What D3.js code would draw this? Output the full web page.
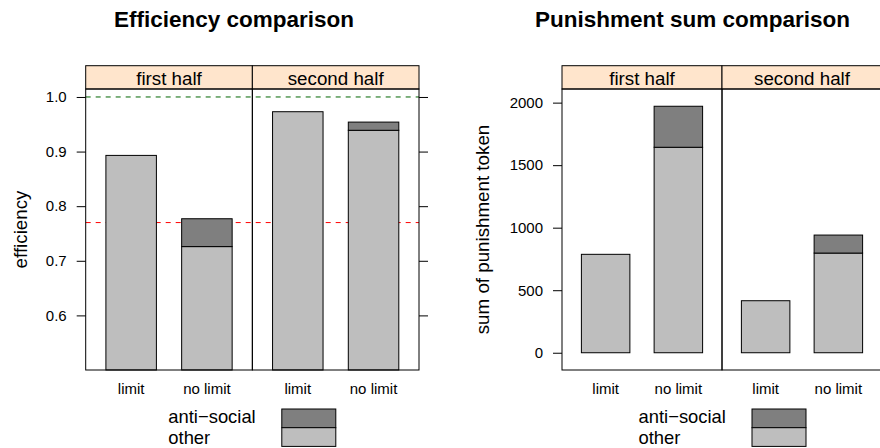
<!DOCTYPE html>
<html>
<head>
<meta charset="utf-8">
<script src="https://cdn.jsdelivr.net/npm/d3@7"></script>
<style>
  html, body { margin: 0; padding: 0; background: #fff; }
  svg { display: block; font-family: "Liberation Sans", Arial, Helvetica, sans-serif; }
</style>
</head>
<body>
<svg id="chart" width="880" height="448"></svg>
<script>
// Conditions and panels
const halves = ["first half", "second half"];
const treatments = ["limit", "no limit"];
const groups = ["other", "anti\u2212social"];

// Efficiency per half x treatment (limit, no limit, limit, no limit)
const effOther = [0.893, 0.726, 0.973, 0.939];
const effAnti  = [0.000, 0.051, 0.000, 0.015];
const effTicks = [0.6, 0.7, 0.8, 0.9, 1.0];
const effRefMax = 1.0;
const effRefBase = 0.77;

// Punishment token sums per half x treatment
const punOther = [787, 1643, 416, 797];
const punAnti  = [0, 328, 0, 144];
const punTicks = [0, 500, 1000, 1500, 2000];

const svg = d3.select("#chart");
const colOther = "#bebebe";
const colAnti = "#7f7f7f";
const stripFill = "#ffe5cc";

function drawChart(opt) {
  const g = svg.append("g");
  const top = 65.7, stripBottom = 89, bottom = 370;
  const mid = (opt.left + opt.right) / 2;

  const y = d3.scaleLinear().domain(opt.domain).range([bottom, stripBottom]);

  // title
  g.append("text")
    .attr("x", opt.titleX).attr("y", 27)
    .attr("text-anchor", "middle")
    .style("font-size", "22.5px").style("font-weight", "bold")
    .text(opt.title);

  // reference lines (under bars)
  (opt.refs || []).forEach(r => {
    g.append("line")
      .attr("x1", opt.left).attr("x2", opt.right)
      .attr("y1", y(r.v)).attr("y2", y(r.v))
      .attr("stroke", r.color).attr("stroke-width", 1)
      .attr("stroke-dasharray", "5,5");
  });

  halves.forEach((h, hi) => {
    const l = hi === 0 ? opt.left : mid;
    const r = hi === 0 ? mid : opt.right;
    const x = d3.scaleBand().domain(treatments).range([l, r])
      .paddingInner(1 / 3).paddingOuter(0.2667);

    const rows = treatments.map((t, ti) => {
      const k = hi * 2 + ti;
      return { t, other: opt.other[k], anti: opt.anti[k] };
    });
    const stack = d3.stack().keys(["other", "anti"])(rows);

    stack.forEach(layer => {
      layer.forEach(seg => {
        if (seg[1] - seg[0] <= 0) return;
        const y0 = Math.max(seg[0], opt.domain[0]);
        g.append("rect")
          .attr("x", x(seg.data.t)).attr("width", x.bandwidth())
          .attr("y", y(seg[1])).attr("height", y(y0) - y(seg[1]))
          .attr("fill", layer.key === "other" ? colOther : colAnti)
          .attr("stroke", "#000").attr("stroke-width", 1);
      });
    });

    // category labels
    treatments.forEach(t => {
      g.append("text")
        .attr("x", x(t) + x.bandwidth() / 2).attr("y", 394)
        .attr("text-anchor", "middle").style("font-size", "15px")
        .text(t);
    });

    // strip
    g.append("rect")
      .attr("x", l).attr("y", top).attr("width", r - l).attr("height", stripBottom - top)
      .attr("fill", stripFill).attr("stroke", "#000").attr("stroke-width", 1);
    g.append("text")
      .attr("x", (l + r) / 2).attr("y", 85)
      .attr("text-anchor", "middle").style("font-size", "18.75px")
      .text(h);

    // panel frame
    g.append("rect")
      .attr("x", l).attr("y", stripBottom).attr("width", r - l).attr("height", bottom - stripBottom)
      .attr("fill", "none").attr("stroke", "#000").attr("stroke-width", 1);
  });

  // left axis
  const ax = g.append("g").attr("transform", `translate(${opt.left},0)`)
    .call(d3.axisLeft(y).tickValues(opt.ticks).tickFormat(opt.fmt).tickSize(9).tickPadding(10));
  ax.select(".domain").remove();
  ax.selectAll("text").style("font-size", "15px").attr("fill", "#000")
    .style("font-family", "'Liberation Sans', Arial, Helvetica, sans-serif");
  ax.selectAll("line").attr("stroke", "#000");

  // right ticks
  const axr = g.append("g").attr("transform", `translate(${opt.right},0)`)
    .call(d3.axisRight(y).tickValues(opt.ticks).tickFormat("").tickSize(9));
  axr.select(".domain").remove();
  axr.selectAll("line").attr("stroke", "#000");

  // y label
  g.append("text")
    .attr("transform", `translate(${opt.ylabX},${(stripBottom + bottom) / 2}) rotate(-90)`)
    .attr("text-anchor", "middle").style("font-size", "18.75px")
    .text(opt.ylab);

  // legend: labels on the left, keys beside them
  const lx = opt.legendX;
  g.append("text").attr("x", lx).attr("y", 423.3).style("font-size", "18.4px").text(groups[1]);
  g.append("text").attr("x", lx).attr("y", 444).style("font-size", "18.4px").text(groups[0]);
  const rx = lx + 113.5;
  g.append("rect").attr("x", rx).attr("y", 409).attr("width", 54).attr("height", 18.7)
    .attr("fill", colAnti).attr("stroke", "#000");
  g.append("rect").attr("x", rx).attr("y", 427.7).attr("width", 54).attr("height", 18.7)
    .attr("fill", colOther).attr("stroke", "#000");
}

drawChart({
  title: "Efficiency comparison", titleX: 234,
  left: 85.7, right: 419,
  domain: [0.5, 1.0146],
  other: effOther, anti: effAnti,
  ticks: effTicks, fmt: d3.format(".1f"),
  refs: [{ v: effRefMax, color: "#006400" }, { v: effRefBase, color: "#ff0000" }],
  ylab: "efficiency", ylabX: 27,
  legendX: 168.3
});

drawChart({
  title: "Punishment sum comparison", titleX: 692.5,
  left: 562, right: 882,
  domain: [-138, 2109],
  other: punOther, anti: punAnti,
  ticks: punTicks, fmt: d3.format("d"),
  refs: [],
  ylab: "sum of punishment token", ylabX: 489,
  legendX: 638.5
});
</script>
</body>
</html>
